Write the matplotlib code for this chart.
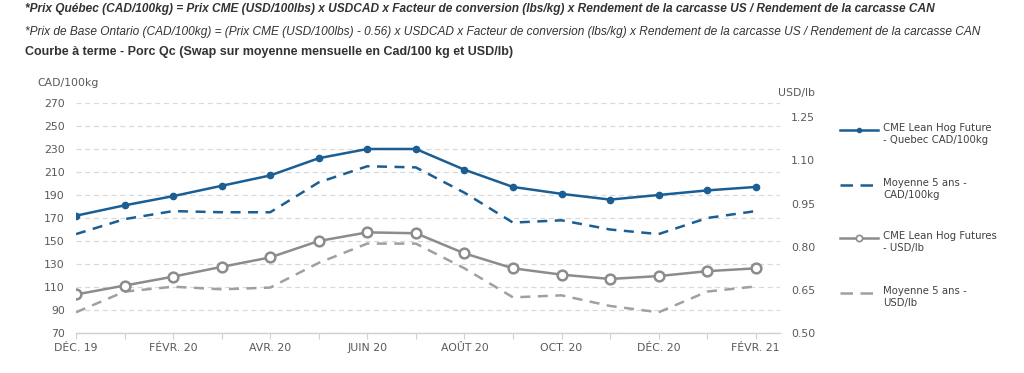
import matplotlib
matplotlib.use("Agg")
import matplotlib.pyplot as plt
from matplotlib.lines import Line2D

months = ["DÉC. 19", "JANV. 20", "FÉVR. 20", "MARS 20", "AVR. 20", "MAI 20", "JUIN 20",
          "JUIL. 20", "AOÛT 20", "SEPT. 20", "OCT. 20", "NOV. 20", "DÉC. 20", "JANV. 21", "FÉVR. 21"]
quebec_cad = [172, 181, 189, 198, 207, 222, 230, 230, 212, 197, 191, 186, 190, 194, 197]
moy5_cad = [156, 169, 176, 175, 175, 201, 215, 214, 192, 166, 168, 160, 156, 170, 176]
cme_usd = [0.634, 0.665, 0.696, 0.730, 0.763, 0.820, 0.850, 0.847, 0.777, 0.725, 0.703, 0.688, 0.698, 0.715, 0.725]
moy5_usd = [0.572, 0.644, 0.661, 0.652, 0.658, 0.744, 0.811, 0.811, 0.725, 0.624, 0.631, 0.594, 0.572, 0.644, 0.662]
left_ticks = [70, 90, 110, 130, 150, 170, 190, 210, 230, 250, 270]
right_ticks = [0.50, 0.65, 0.80, 0.95, 1.10, 1.25]
legend_labels = ["CME Lean Hog Future\n- Quebec CAD/100kg", "Moyenne 5 ans -\nCAD/100kg",
                 "CME Lean Hog Futures\n- USD/lb", "Moyenne 5 ans -\nUSD/lb"]

BLUE = "#1b5e93"
GRAY = "#8c8c8c"
GRAY_D = "#a0a0a0"
TXT = "#595959"

W, H = 1024, 373
fig = plt.figure(figsize=(W/100, H/100), dpi=100)
ax = fig.add_axes([76/W, 1-333/H, (780-76)/W, (333-103)/H])
ax2 = ax.twinx()

x = list(range(len(months)))
ax.plot(x, quebec_cad, color=BLUE, lw=1.8, marker="o", ms=4.5, zorder=5)
ax.plot(x, moy5_cad, color=BLUE, lw=1.8, ls=(0, (4, 3)), zorder=4)
ax2.plot(x, cme_usd, color=GRAY, lw=1.8, marker="o", ms=7, mfc="white", mec=GRAY, mew=1.8, zorder=5)
ax2.plot(x, moy5_usd, color=GRAY_D, lw=1.8, ls=(0, (4, 3)), zorder=4)

ax.set_xlim(0, 14.5)
ax.set_ylim(70, 270)
ax2.set_ylim(0.5, 1.3)
ax.set_yticks(left_ticks)
ax2.set_yticks(right_ticks)
ax2.set_yticklabels([f"{v:.2f}" for v in right_ticks])
ax.set_xticks(x)
ax.set_xticklabels([m if i % 2 == 0 else "" for i, m in enumerate(months)])

for a in (ax, ax2):
    for s in ("top", "left", "right", "bottom"):
        a.spines[s].set_visible(False)
ax.spines["bottom"].set_visible(True)
ax.spines["bottom"].set_color("#d0d0d0")
ax.spines["bottom"].set_linewidth(1.0)

ax.yaxis.grid(True, color="#d9d9d9", ls=(0, (4, 3)), lw=0.9)
ax.set_axisbelow(True)
ax.tick_params(axis="y", length=0, labelsize=7.8, labelcolor=TXT, pad=8)
ax2.tick_params(axis="y", length=0, labelsize=7.8, labelcolor=TXT, pad=8)
ax.tick_params(axis="x", length=4, color="#d0d0d0", labelsize=7.8, labelcolor=TXT, pad=3)

fig.text(37/W, 1-83/H, "CAD/100kg", fontsize=7.8, color=TXT, va="center", ha="left")
fig.text(778/W, 1-93/H, "USD/lb", fontsize=7.8, color=TXT, va="center", ha="left")

fig.text(25/W, 1-9/H,
         "*Prix Québec (CAD/100kg) = Prix CME (USD/100lbs) x USDCAD x Facteur de conversion (lbs/kg) x Rendement de la carcasse US / Rendement de la carcasse CAN",
         family="Liberation Sans", fontsize=8.55, fontweight="bold", fontstyle="italic", color="#333333", va="center")
fig.text(25/W, 1-32/H,
         "*Prix de Base Ontario (CAD/100kg) = (Prix CME (USD/100lbs) - 0.56) x USDCAD x Facteur de conversion (lbs/kg) x Rendement de la carcasse US / Rendement de la carcasse CAN",
         family="Liberation Sans", fontsize=8.55, fontstyle="italic", color="#333333", va="center")
fig.text(25/W, 1-52/H,
         "Courbe à terme - Porc Qc (Swap sur moyenne mensuelle en Cad/100 kg et USD/lb)",
         family="Liberation Sans", fontsize=9, fontweight="bold", color="#333333", va="center")

# manual legend
styles = [
    dict(color=BLUE, lw=1.8, marker="o", ms=3, markevery=[1]),
    dict(color=BLUE, lw=1.8, ls=(0, (5, 3))),
    dict(color=GRAY, lw=1.8, marker="o", ms=4.5, mfc="white", mec=GRAY, mew=1.2, markevery=[1]),
    dict(color=GRAY_D, lw=1.8, ls=(0, (5, 3))),
]
ys = [130, 185, 238, 293]
for yy, st, lab in zip(ys, styles, legend_labels):
    yf = 1 - yy/H
    fig.add_artist(Line2D([840/W, 859/W, 878/W], [yf, yf, yf], transform=fig.transFigure, **st))
    fig.text(883/W, 1-(yy-7)/H, lab, fontsize=7.3, color="#404040", va="top", ha="left", linespacing=1.3)

fig.savefig("out.png", dpi=100)
